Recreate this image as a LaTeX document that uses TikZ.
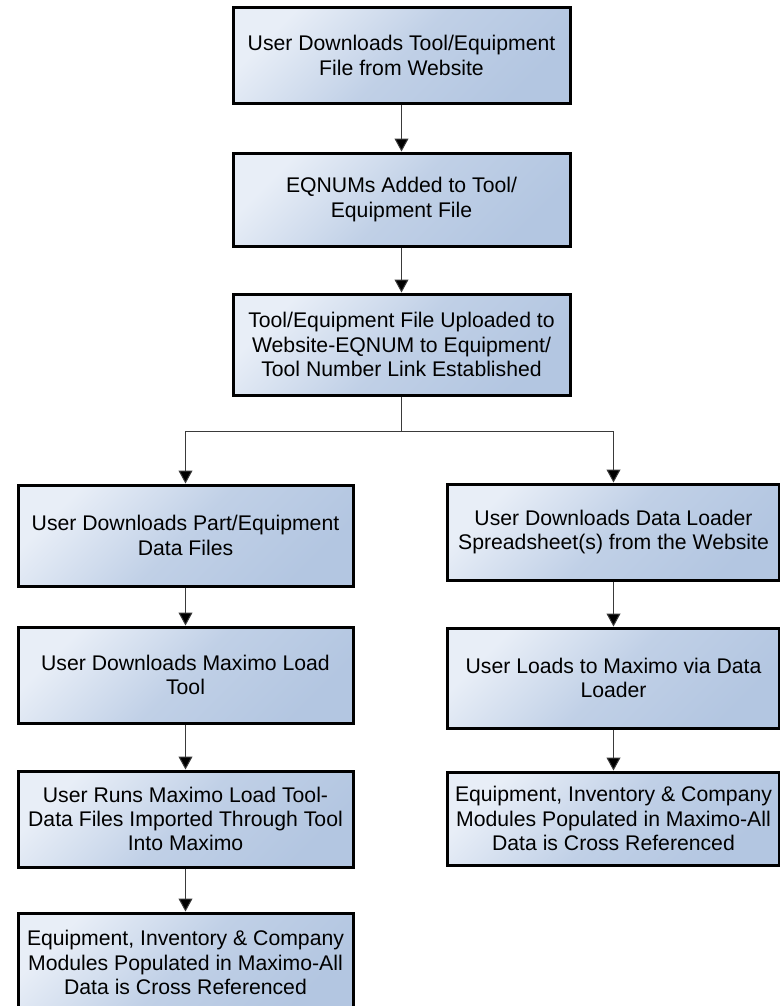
\documentclass[tikz,border=0pt]{standalone}
\usepackage{fontspec}
\setmainfont{Liberation Sans}
\usetikzlibrary{arrows.meta}
\definecolor{boxlight}{HTML}{E8EEF7}
\definecolor{boxdark}{HTML}{B3C6E1}
\colorlet{boxmid}{boxdark!75!boxlight}
\definecolor{linegray}{HTML}{3A3A3A}
\begin{document}
\begin{tikzpicture}[x=0.75pt,y=-0.75pt,
  box/.style={draw=black, line width=2.25pt, rectangle, inner sep=0pt,
    top color=boxlight, bottom color=boxdark, middle color=boxmid, shading angle=45,
    align=center, font=\fontsize{15.9pt}{18.2pt}\selectfont},
  bbox/.style={box, minimum width=252.75pt},
  lbox/.style={box, minimum width=251.25pt},
  rbox/.style={box, minimum width=249pt},
  conn/.style={draw=linegray, line width=0.75pt,
    -{Triangle[width=10.5pt,length=9.75pt,fill=black]}},
  plain/.style={draw=linegray, line width=0.75pt}]
\useasboundingbox (0,0) rectangle (780,1006);
\begin{scope}
\clip (0,0) rectangle (780,1006);
\node[bbox, minimum height=71.25pt] (b1) at (401.5,55.5) {User Downloads Tool/Equipment\\File from Website};
\node[bbox, minimum height=69.75pt] (b2) at (401.5,199.5) {EQNUMs Added to Tool/\\Equipment File};
\node[bbox, minimum height=75.75pt] (b3) at (401.5,344.5) {Tool/Equipment File Uploaded to\\Website-EQNUM to Equipment/\\Tool Number Link Established};
\node[lbox, minimum height=75.75pt] (l1) at (185.5,535.5) {User Downloads Part/Equipment\\Data Files};
\node[lbox, minimum height=72pt] (l2) at (185.5,675) {User Downloads Maximo Load\\Tool};
\node[lbox, minimum height=72pt] (l3) at (185.5,819) {User Runs Maximo Load Tool-\\Data Files Imported Through Tool\\Into Maximo};
\node[lbox, minimum height=74.25pt] (l4) at (185.5,962.5) {Equipment, Inventory \& Company\\Modules Populated in Maximo-All\\Data is Cross Referenced};
\node[rbox, minimum height=72pt] (r1) at (613.5,532) {User Downloads Data Loader\\Spreadsheet(s) from the Website};
\node[rbox, minimum height=75pt] (r2) at (613.5,678) {User Loads to Maximo via Data\\Loader};
\node[rbox, minimum height=69.75pt] (r3) at (613.5,818.5) {Equipment, Inventory \& Company\\Modules Populated in Maximo-All\\Data is Cross Referenced};
\coordinate (split) at (401.5,431);
\draw[conn] (b1) -- (b2);
\draw[conn] (b2) -- (b3);
\draw[plain] (b3.south) -- (split);
\draw[conn] (split) -| (l1.north);
\draw[conn] (split) -| (r1.north);
\draw[conn] (l1) -- (l2);
\draw[conn] (l2) -- (l3);
\draw[conn] (l3) -- (l4);
\draw[conn] (r1) -- (r2);
\draw[conn] (r2) -- (r3);
\end{scope}
\end{tikzpicture}
\end{document}
